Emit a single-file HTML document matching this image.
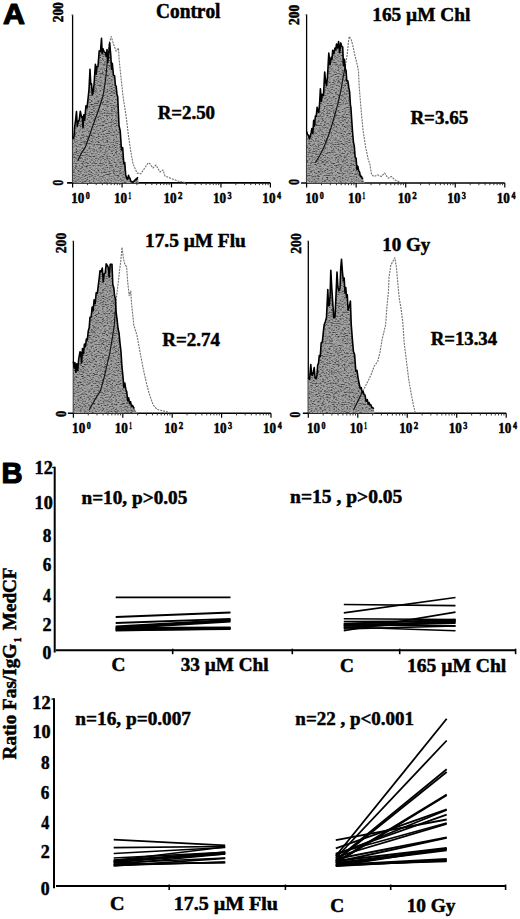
<!DOCTYPE html>
<html><head><meta charset="utf-8"><title>Figure</title>
<style>
html,body{margin:0;padding:0;background:#fff;}
body{width:520px;height:919px;overflow:hidden;}
svg{display:block;}
text{font-weight:bold;fill:#000;font-kerning:none;}
</style></head><body>
<svg width="520" height="919" viewBox="0 0 520 919">
<rect width="520" height="919" fill="#fff"/>
<text x="3.04" y="23.90" font-size="29.5" textLength="21.96" lengthAdjust="spacingAndGlyphs" style="font-family:'Liberation Sans', sans-serif"  stroke="#000" stroke-width="1.2" stroke-linejoin="round">A</text>
<text x="1.55" y="483.40" font-size="29.5" textLength="21.08" lengthAdjust="spacingAndGlyphs" style="font-family:'Liberation Sans', sans-serif"  stroke="#000" stroke-width="1.2" stroke-linejoin="round">B</text>
<line x1="72.6" y1="14.6" x2="72.6" y2="183.4" stroke="#000" stroke-width="1.3"/>
<line x1="67.1" y1="182.9" x2="270.4" y2="182.9" stroke="#000" stroke-width="1.6"/>
<line x1="72.60" y1="182.9" x2="72.60" y2="187.4" stroke="#000" stroke-width="1.2"/>
<line x1="87.49" y1="182.9" x2="87.49" y2="185.1" stroke="#222" stroke-width="0.9"/>
<line x1="96.19" y1="182.9" x2="96.19" y2="185.1" stroke="#222" stroke-width="0.9"/>
<line x1="102.37" y1="182.9" x2="102.37" y2="185.1" stroke="#222" stroke-width="0.9"/>
<line x1="107.16" y1="182.9" x2="107.16" y2="185.1" stroke="#222" stroke-width="0.9"/>
<line x1="111.08" y1="182.9" x2="111.08" y2="185.1" stroke="#222" stroke-width="0.9"/>
<line x1="114.39" y1="182.9" x2="114.39" y2="185.1" stroke="#222" stroke-width="0.9"/>
<line x1="117.26" y1="182.9" x2="117.26" y2="185.1" stroke="#222" stroke-width="0.9"/>
<line x1="119.79" y1="182.9" x2="119.79" y2="185.1" stroke="#222" stroke-width="0.9"/>
<line x1="122.05" y1="182.9" x2="122.05" y2="187.4" stroke="#000" stroke-width="1.2"/>
<line x1="136.94" y1="182.9" x2="136.94" y2="185.1" stroke="#222" stroke-width="0.9"/>
<line x1="145.64" y1="182.9" x2="145.64" y2="185.1" stroke="#222" stroke-width="0.9"/>
<line x1="151.82" y1="182.9" x2="151.82" y2="185.1" stroke="#222" stroke-width="0.9"/>
<line x1="156.61" y1="182.9" x2="156.61" y2="185.1" stroke="#222" stroke-width="0.9"/>
<line x1="160.53" y1="182.9" x2="160.53" y2="185.1" stroke="#222" stroke-width="0.9"/>
<line x1="163.84" y1="182.9" x2="163.84" y2="185.1" stroke="#222" stroke-width="0.9"/>
<line x1="166.71" y1="182.9" x2="166.71" y2="185.1" stroke="#222" stroke-width="0.9"/>
<line x1="169.24" y1="182.9" x2="169.24" y2="185.1" stroke="#222" stroke-width="0.9"/>
<line x1="171.50" y1="182.9" x2="171.50" y2="187.4" stroke="#000" stroke-width="1.2"/>
<line x1="186.39" y1="182.9" x2="186.39" y2="185.1" stroke="#222" stroke-width="0.9"/>
<line x1="195.09" y1="182.9" x2="195.09" y2="185.1" stroke="#222" stroke-width="0.9"/>
<line x1="201.27" y1="182.9" x2="201.27" y2="185.1" stroke="#222" stroke-width="0.9"/>
<line x1="206.06" y1="182.9" x2="206.06" y2="185.1" stroke="#222" stroke-width="0.9"/>
<line x1="209.98" y1="182.9" x2="209.98" y2="185.1" stroke="#222" stroke-width="0.9"/>
<line x1="213.29" y1="182.9" x2="213.29" y2="185.1" stroke="#222" stroke-width="0.9"/>
<line x1="216.16" y1="182.9" x2="216.16" y2="185.1" stroke="#222" stroke-width="0.9"/>
<line x1="218.69" y1="182.9" x2="218.69" y2="185.1" stroke="#222" stroke-width="0.9"/>
<line x1="220.95" y1="182.9" x2="220.95" y2="187.4" stroke="#000" stroke-width="1.2"/>
<line x1="235.84" y1="182.9" x2="235.84" y2="185.1" stroke="#222" stroke-width="0.9"/>
<line x1="244.54" y1="182.9" x2="244.54" y2="185.1" stroke="#222" stroke-width="0.9"/>
<line x1="250.72" y1="182.9" x2="250.72" y2="185.1" stroke="#222" stroke-width="0.9"/>
<line x1="255.51" y1="182.9" x2="255.51" y2="185.1" stroke="#222" stroke-width="0.9"/>
<line x1="259.43" y1="182.9" x2="259.43" y2="185.1" stroke="#222" stroke-width="0.9"/>
<line x1="262.74" y1="182.9" x2="262.74" y2="185.1" stroke="#222" stroke-width="0.9"/>
<line x1="265.61" y1="182.9" x2="265.61" y2="185.1" stroke="#222" stroke-width="0.9"/>
<line x1="268.14" y1="182.9" x2="268.14" y2="185.1" stroke="#222" stroke-width="0.9"/>
<line x1="270.40" y1="182.9" x2="270.40" y2="187.4" stroke="#000" stroke-width="1.2"/>
<line x1="71.1" y1="15.1" x2="72.6" y2="15.1" stroke="#999" stroke-width="1"/>
<text transform="translate(63.25,22.21) rotate(-90)" x="0" y="0" font-size="14" textLength="19.97" lengthAdjust="spacingAndGlyphs" style="font-family:'Liberation Serif', serif" stroke="#000" stroke-width="0.5" stroke-linejoin="round">200</text>
<text transform="translate(63.25,185.59) rotate(-90)" x="0" y="0" font-size="14" textLength="5.78" lengthAdjust="spacingAndGlyphs" style="font-family:'Liberation Serif', serif" stroke="#000" stroke-width="0.5" stroke-linejoin="round">0</text>
<text x="71.30" y="202.65" font-size="14.5" textLength="13.15" lengthAdjust="spacingAndGlyphs" style="font-family:'Liberation Serif', serif"  stroke="#000" stroke-width="0.5" stroke-linejoin="round">10</text>
<text x="85.84" y="198.65" font-size="10" textLength="4.01" lengthAdjust="spacingAndGlyphs" style="font-family:'Liberation Serif', serif"  stroke="#000" stroke-width="0.5" stroke-linejoin="round">0</text>
<text x="114.00" y="202.65" font-size="14.5" textLength="13.15" lengthAdjust="spacingAndGlyphs" style="font-family:'Liberation Serif', serif"  stroke="#000" stroke-width="0.5" stroke-linejoin="round">10</text>
<text x="128.44" y="198.65" font-size="10" textLength="2.58" lengthAdjust="spacingAndGlyphs" style="font-family:'Liberation Serif', serif"  stroke="#000" stroke-width="0.5" stroke-linejoin="round">1</text>
<text x="163.45" y="202.65" font-size="14.5" textLength="13.15" lengthAdjust="spacingAndGlyphs" style="font-family:'Liberation Serif', serif"  stroke="#000" stroke-width="0.5" stroke-linejoin="round">10</text>
<text x="177.93" y="198.65" font-size="10" textLength="4.46" lengthAdjust="spacingAndGlyphs" style="font-family:'Liberation Serif', serif"  stroke="#000" stroke-width="0.5" stroke-linejoin="round">2</text>
<text x="212.90" y="202.65" font-size="14.5" textLength="13.15" lengthAdjust="spacingAndGlyphs" style="font-family:'Liberation Serif', serif"  stroke="#000" stroke-width="0.5" stroke-linejoin="round">10</text>
<text x="227.44" y="198.65" font-size="10" textLength="4.09" lengthAdjust="spacingAndGlyphs" style="font-family:'Liberation Serif', serif"  stroke="#000" stroke-width="0.5" stroke-linejoin="round">3</text>
<text x="262.35" y="202.65" font-size="14.5" textLength="13.15" lengthAdjust="spacingAndGlyphs" style="font-family:'Liberation Serif', serif"  stroke="#000" stroke-width="0.5" stroke-linejoin="round">10</text>
<text x="277.09" y="198.65" font-size="10" textLength="4.06" lengthAdjust="spacingAndGlyphs" style="font-family:'Liberation Serif', serif"  stroke="#000" stroke-width="0.5" stroke-linejoin="round">4</text>
<line x1="306.6" y1="14.3" x2="306.6" y2="183.5" stroke="#000" stroke-width="1.3"/>
<line x1="301.1" y1="183.0" x2="504.8" y2="183.0" stroke="#000" stroke-width="1.6"/>
<line x1="306.60" y1="183.0" x2="306.60" y2="187.5" stroke="#000" stroke-width="1.2"/>
<line x1="321.52" y1="183.0" x2="321.52" y2="185.2" stroke="#222" stroke-width="0.9"/>
<line x1="330.24" y1="183.0" x2="330.24" y2="185.2" stroke="#222" stroke-width="0.9"/>
<line x1="336.43" y1="183.0" x2="336.43" y2="185.2" stroke="#222" stroke-width="0.9"/>
<line x1="341.23" y1="183.0" x2="341.23" y2="185.2" stroke="#222" stroke-width="0.9"/>
<line x1="345.16" y1="183.0" x2="345.16" y2="185.2" stroke="#222" stroke-width="0.9"/>
<line x1="348.47" y1="183.0" x2="348.47" y2="185.2" stroke="#222" stroke-width="0.9"/>
<line x1="351.35" y1="183.0" x2="351.35" y2="185.2" stroke="#222" stroke-width="0.9"/>
<line x1="353.88" y1="183.0" x2="353.88" y2="185.2" stroke="#222" stroke-width="0.9"/>
<line x1="356.15" y1="183.0" x2="356.15" y2="187.5" stroke="#000" stroke-width="1.2"/>
<line x1="371.07" y1="183.0" x2="371.07" y2="185.2" stroke="#222" stroke-width="0.9"/>
<line x1="379.79" y1="183.0" x2="379.79" y2="185.2" stroke="#222" stroke-width="0.9"/>
<line x1="385.98" y1="183.0" x2="385.98" y2="185.2" stroke="#222" stroke-width="0.9"/>
<line x1="390.78" y1="183.0" x2="390.78" y2="185.2" stroke="#222" stroke-width="0.9"/>
<line x1="394.71" y1="183.0" x2="394.71" y2="185.2" stroke="#222" stroke-width="0.9"/>
<line x1="398.02" y1="183.0" x2="398.02" y2="185.2" stroke="#222" stroke-width="0.9"/>
<line x1="400.90" y1="183.0" x2="400.90" y2="185.2" stroke="#222" stroke-width="0.9"/>
<line x1="403.43" y1="183.0" x2="403.43" y2="185.2" stroke="#222" stroke-width="0.9"/>
<line x1="405.70" y1="183.0" x2="405.70" y2="187.5" stroke="#000" stroke-width="1.2"/>
<line x1="420.62" y1="183.0" x2="420.62" y2="185.2" stroke="#222" stroke-width="0.9"/>
<line x1="429.34" y1="183.0" x2="429.34" y2="185.2" stroke="#222" stroke-width="0.9"/>
<line x1="435.53" y1="183.0" x2="435.53" y2="185.2" stroke="#222" stroke-width="0.9"/>
<line x1="440.33" y1="183.0" x2="440.33" y2="185.2" stroke="#222" stroke-width="0.9"/>
<line x1="444.26" y1="183.0" x2="444.26" y2="185.2" stroke="#222" stroke-width="0.9"/>
<line x1="447.57" y1="183.0" x2="447.57" y2="185.2" stroke="#222" stroke-width="0.9"/>
<line x1="450.45" y1="183.0" x2="450.45" y2="185.2" stroke="#222" stroke-width="0.9"/>
<line x1="452.98" y1="183.0" x2="452.98" y2="185.2" stroke="#222" stroke-width="0.9"/>
<line x1="455.25" y1="183.0" x2="455.25" y2="187.5" stroke="#000" stroke-width="1.2"/>
<line x1="470.17" y1="183.0" x2="470.17" y2="185.2" stroke="#222" stroke-width="0.9"/>
<line x1="478.89" y1="183.0" x2="478.89" y2="185.2" stroke="#222" stroke-width="0.9"/>
<line x1="485.08" y1="183.0" x2="485.08" y2="185.2" stroke="#222" stroke-width="0.9"/>
<line x1="489.88" y1="183.0" x2="489.88" y2="185.2" stroke="#222" stroke-width="0.9"/>
<line x1="493.81" y1="183.0" x2="493.81" y2="185.2" stroke="#222" stroke-width="0.9"/>
<line x1="497.12" y1="183.0" x2="497.12" y2="185.2" stroke="#222" stroke-width="0.9"/>
<line x1="500.00" y1="183.0" x2="500.00" y2="185.2" stroke="#222" stroke-width="0.9"/>
<line x1="502.53" y1="183.0" x2="502.53" y2="185.2" stroke="#222" stroke-width="0.9"/>
<line x1="504.80" y1="183.0" x2="504.80" y2="187.5" stroke="#000" stroke-width="1.2"/>
<line x1="305.1" y1="14.8" x2="306.6" y2="14.8" stroke="#999" stroke-width="1"/>
<text transform="translate(298.55,24.91) rotate(-90)" x="0" y="0" font-size="14" textLength="20.18" lengthAdjust="spacingAndGlyphs" style="font-family:'Liberation Serif', serif" stroke="#000" stroke-width="0.5" stroke-linejoin="round">200</text>
<text transform="translate(298.55,184.79) rotate(-90)" x="0" y="0" font-size="14" textLength="5.78" lengthAdjust="spacingAndGlyphs" style="font-family:'Liberation Serif', serif" stroke="#000" stroke-width="0.5" stroke-linejoin="round">0</text>
<text x="305.30" y="202.75" font-size="14.5" textLength="13.15" lengthAdjust="spacingAndGlyphs" style="font-family:'Liberation Serif', serif"  stroke="#000" stroke-width="0.5" stroke-linejoin="round">10</text>
<text x="319.84" y="198.75" font-size="10" textLength="4.01" lengthAdjust="spacingAndGlyphs" style="font-family:'Liberation Serif', serif"  stroke="#000" stroke-width="0.5" stroke-linejoin="round">0</text>
<text x="348.10" y="202.75" font-size="14.5" textLength="13.15" lengthAdjust="spacingAndGlyphs" style="font-family:'Liberation Serif', serif"  stroke="#000" stroke-width="0.5" stroke-linejoin="round">10</text>
<text x="362.54" y="198.75" font-size="10" textLength="2.58" lengthAdjust="spacingAndGlyphs" style="font-family:'Liberation Serif', serif"  stroke="#000" stroke-width="0.5" stroke-linejoin="round">1</text>
<text x="397.65" y="202.75" font-size="14.5" textLength="13.15" lengthAdjust="spacingAndGlyphs" style="font-family:'Liberation Serif', serif"  stroke="#000" stroke-width="0.5" stroke-linejoin="round">10</text>
<text x="412.13" y="198.75" font-size="10" textLength="4.46" lengthAdjust="spacingAndGlyphs" style="font-family:'Liberation Serif', serif"  stroke="#000" stroke-width="0.5" stroke-linejoin="round">2</text>
<text x="447.20" y="202.75" font-size="14.5" textLength="13.15" lengthAdjust="spacingAndGlyphs" style="font-family:'Liberation Serif', serif"  stroke="#000" stroke-width="0.5" stroke-linejoin="round">10</text>
<text x="461.74" y="198.75" font-size="10" textLength="4.09" lengthAdjust="spacingAndGlyphs" style="font-family:'Liberation Serif', serif"  stroke="#000" stroke-width="0.5" stroke-linejoin="round">3</text>
<text x="496.75" y="202.75" font-size="14.5" textLength="13.15" lengthAdjust="spacingAndGlyphs" style="font-family:'Liberation Serif', serif"  stroke="#000" stroke-width="0.5" stroke-linejoin="round">10</text>
<text x="511.49" y="198.75" font-size="10" textLength="4.06" lengthAdjust="spacingAndGlyphs" style="font-family:'Liberation Serif', serif"  stroke="#000" stroke-width="0.5" stroke-linejoin="round">4</text>
<line x1="73.4" y1="240.8" x2="73.4" y2="413.7" stroke="#000" stroke-width="1.3"/>
<line x1="67.9" y1="413.2" x2="271.0" y2="413.2" stroke="#000" stroke-width="1.6"/>
<line x1="73.40" y1="413.2" x2="73.40" y2="417.7" stroke="#000" stroke-width="1.2"/>
<line x1="88.27" y1="413.2" x2="88.27" y2="415.4" stroke="#222" stroke-width="0.9"/>
<line x1="96.97" y1="413.2" x2="96.97" y2="415.4" stroke="#222" stroke-width="0.9"/>
<line x1="103.14" y1="413.2" x2="103.14" y2="415.4" stroke="#222" stroke-width="0.9"/>
<line x1="107.93" y1="413.2" x2="107.93" y2="415.4" stroke="#222" stroke-width="0.9"/>
<line x1="111.84" y1="413.2" x2="111.84" y2="415.4" stroke="#222" stroke-width="0.9"/>
<line x1="115.15" y1="413.2" x2="115.15" y2="415.4" stroke="#222" stroke-width="0.9"/>
<line x1="118.01" y1="413.2" x2="118.01" y2="415.4" stroke="#222" stroke-width="0.9"/>
<line x1="120.54" y1="413.2" x2="120.54" y2="415.4" stroke="#222" stroke-width="0.9"/>
<line x1="122.80" y1="413.2" x2="122.80" y2="417.7" stroke="#000" stroke-width="1.2"/>
<line x1="137.67" y1="413.2" x2="137.67" y2="415.4" stroke="#222" stroke-width="0.9"/>
<line x1="146.37" y1="413.2" x2="146.37" y2="415.4" stroke="#222" stroke-width="0.9"/>
<line x1="152.54" y1="413.2" x2="152.54" y2="415.4" stroke="#222" stroke-width="0.9"/>
<line x1="157.33" y1="413.2" x2="157.33" y2="415.4" stroke="#222" stroke-width="0.9"/>
<line x1="161.24" y1="413.2" x2="161.24" y2="415.4" stroke="#222" stroke-width="0.9"/>
<line x1="164.55" y1="413.2" x2="164.55" y2="415.4" stroke="#222" stroke-width="0.9"/>
<line x1="167.41" y1="413.2" x2="167.41" y2="415.4" stroke="#222" stroke-width="0.9"/>
<line x1="169.94" y1="413.2" x2="169.94" y2="415.4" stroke="#222" stroke-width="0.9"/>
<line x1="172.20" y1="413.2" x2="172.20" y2="417.7" stroke="#000" stroke-width="1.2"/>
<line x1="187.07" y1="413.2" x2="187.07" y2="415.4" stroke="#222" stroke-width="0.9"/>
<line x1="195.77" y1="413.2" x2="195.77" y2="415.4" stroke="#222" stroke-width="0.9"/>
<line x1="201.94" y1="413.2" x2="201.94" y2="415.4" stroke="#222" stroke-width="0.9"/>
<line x1="206.73" y1="413.2" x2="206.73" y2="415.4" stroke="#222" stroke-width="0.9"/>
<line x1="210.64" y1="413.2" x2="210.64" y2="415.4" stroke="#222" stroke-width="0.9"/>
<line x1="213.95" y1="413.2" x2="213.95" y2="415.4" stroke="#222" stroke-width="0.9"/>
<line x1="216.81" y1="413.2" x2="216.81" y2="415.4" stroke="#222" stroke-width="0.9"/>
<line x1="219.34" y1="413.2" x2="219.34" y2="415.4" stroke="#222" stroke-width="0.9"/>
<line x1="221.60" y1="413.2" x2="221.60" y2="417.7" stroke="#000" stroke-width="1.2"/>
<line x1="236.47" y1="413.2" x2="236.47" y2="415.4" stroke="#222" stroke-width="0.9"/>
<line x1="245.17" y1="413.2" x2="245.17" y2="415.4" stroke="#222" stroke-width="0.9"/>
<line x1="251.34" y1="413.2" x2="251.34" y2="415.4" stroke="#222" stroke-width="0.9"/>
<line x1="256.13" y1="413.2" x2="256.13" y2="415.4" stroke="#222" stroke-width="0.9"/>
<line x1="260.04" y1="413.2" x2="260.04" y2="415.4" stroke="#222" stroke-width="0.9"/>
<line x1="263.35" y1="413.2" x2="263.35" y2="415.4" stroke="#222" stroke-width="0.9"/>
<line x1="266.21" y1="413.2" x2="266.21" y2="415.4" stroke="#222" stroke-width="0.9"/>
<line x1="268.74" y1="413.2" x2="268.74" y2="415.4" stroke="#222" stroke-width="0.9"/>
<line x1="271.00" y1="413.2" x2="271.00" y2="417.7" stroke="#000" stroke-width="1.2"/>
<line x1="71.9" y1="241.3" x2="73.4" y2="241.3" stroke="#999" stroke-width="1"/>
<text transform="translate(65.95,253.33) rotate(-90)" x="0" y="0" font-size="14" textLength="20.60" lengthAdjust="spacingAndGlyphs" style="font-family:'Liberation Serif', serif" stroke="#000" stroke-width="0.5" stroke-linejoin="round">200</text>
<text transform="translate(65.65,417.12) rotate(-90)" x="0" y="0" font-size="14" textLength="6.13" lengthAdjust="spacingAndGlyphs" style="font-family:'Liberation Serif', serif" stroke="#000" stroke-width="0.5" stroke-linejoin="round">0</text>
<text x="72.10" y="432.95" font-size="14.5" textLength="13.15" lengthAdjust="spacingAndGlyphs" style="font-family:'Liberation Serif', serif"  stroke="#000" stroke-width="0.5" stroke-linejoin="round">10</text>
<text x="86.64" y="428.95" font-size="10" textLength="4.01" lengthAdjust="spacingAndGlyphs" style="font-family:'Liberation Serif', serif"  stroke="#000" stroke-width="0.5" stroke-linejoin="round">0</text>
<text x="114.75" y="432.95" font-size="14.5" textLength="13.15" lengthAdjust="spacingAndGlyphs" style="font-family:'Liberation Serif', serif"  stroke="#000" stroke-width="0.5" stroke-linejoin="round">10</text>
<text x="129.19" y="428.95" font-size="10" textLength="2.58" lengthAdjust="spacingAndGlyphs" style="font-family:'Liberation Serif', serif"  stroke="#000" stroke-width="0.5" stroke-linejoin="round">1</text>
<text x="164.15" y="432.95" font-size="14.5" textLength="13.15" lengthAdjust="spacingAndGlyphs" style="font-family:'Liberation Serif', serif"  stroke="#000" stroke-width="0.5" stroke-linejoin="round">10</text>
<text x="178.63" y="428.95" font-size="10" textLength="4.46" lengthAdjust="spacingAndGlyphs" style="font-family:'Liberation Serif', serif"  stroke="#000" stroke-width="0.5" stroke-linejoin="round">2</text>
<text x="213.55" y="432.95" font-size="14.5" textLength="13.15" lengthAdjust="spacingAndGlyphs" style="font-family:'Liberation Serif', serif"  stroke="#000" stroke-width="0.5" stroke-linejoin="round">10</text>
<text x="228.09" y="428.95" font-size="10" textLength="4.09" lengthAdjust="spacingAndGlyphs" style="font-family:'Liberation Serif', serif"  stroke="#000" stroke-width="0.5" stroke-linejoin="round">3</text>
<text x="262.95" y="432.95" font-size="14.5" textLength="13.15" lengthAdjust="spacingAndGlyphs" style="font-family:'Liberation Serif', serif"  stroke="#000" stroke-width="0.5" stroke-linejoin="round">10</text>
<text x="277.69" y="428.95" font-size="10" textLength="4.06" lengthAdjust="spacingAndGlyphs" style="font-family:'Liberation Serif', serif"  stroke="#000" stroke-width="0.5" stroke-linejoin="round">4</text>
<line x1="308.3" y1="240.8" x2="308.3" y2="413.8" stroke="#000" stroke-width="1.3"/>
<line x1="302.8" y1="413.3" x2="506.2" y2="413.3" stroke="#000" stroke-width="1.6"/>
<line x1="308.30" y1="413.3" x2="308.30" y2="417.8" stroke="#000" stroke-width="1.2"/>
<line x1="323.19" y1="413.3" x2="323.19" y2="415.5" stroke="#222" stroke-width="0.9"/>
<line x1="331.91" y1="413.3" x2="331.91" y2="415.5" stroke="#222" stroke-width="0.9"/>
<line x1="338.09" y1="413.3" x2="338.09" y2="415.5" stroke="#222" stroke-width="0.9"/>
<line x1="342.88" y1="413.3" x2="342.88" y2="415.5" stroke="#222" stroke-width="0.9"/>
<line x1="346.80" y1="413.3" x2="346.80" y2="415.5" stroke="#222" stroke-width="0.9"/>
<line x1="350.11" y1="413.3" x2="350.11" y2="415.5" stroke="#222" stroke-width="0.9"/>
<line x1="352.98" y1="413.3" x2="352.98" y2="415.5" stroke="#222" stroke-width="0.9"/>
<line x1="355.51" y1="413.3" x2="355.51" y2="415.5" stroke="#222" stroke-width="0.9"/>
<line x1="357.77" y1="413.3" x2="357.77" y2="417.8" stroke="#000" stroke-width="1.2"/>
<line x1="372.67" y1="413.3" x2="372.67" y2="415.5" stroke="#222" stroke-width="0.9"/>
<line x1="381.38" y1="413.3" x2="381.38" y2="415.5" stroke="#222" stroke-width="0.9"/>
<line x1="387.56" y1="413.3" x2="387.56" y2="415.5" stroke="#222" stroke-width="0.9"/>
<line x1="392.36" y1="413.3" x2="392.36" y2="415.5" stroke="#222" stroke-width="0.9"/>
<line x1="396.27" y1="413.3" x2="396.27" y2="415.5" stroke="#222" stroke-width="0.9"/>
<line x1="399.59" y1="413.3" x2="399.59" y2="415.5" stroke="#222" stroke-width="0.9"/>
<line x1="402.46" y1="413.3" x2="402.46" y2="415.5" stroke="#222" stroke-width="0.9"/>
<line x1="404.99" y1="413.3" x2="404.99" y2="415.5" stroke="#222" stroke-width="0.9"/>
<line x1="407.25" y1="413.3" x2="407.25" y2="417.8" stroke="#000" stroke-width="1.2"/>
<line x1="422.14" y1="413.3" x2="422.14" y2="415.5" stroke="#222" stroke-width="0.9"/>
<line x1="430.86" y1="413.3" x2="430.86" y2="415.5" stroke="#222" stroke-width="0.9"/>
<line x1="437.04" y1="413.3" x2="437.04" y2="415.5" stroke="#222" stroke-width="0.9"/>
<line x1="441.83" y1="413.3" x2="441.83" y2="415.5" stroke="#222" stroke-width="0.9"/>
<line x1="445.75" y1="413.3" x2="445.75" y2="415.5" stroke="#222" stroke-width="0.9"/>
<line x1="449.06" y1="413.3" x2="449.06" y2="415.5" stroke="#222" stroke-width="0.9"/>
<line x1="451.93" y1="413.3" x2="451.93" y2="415.5" stroke="#222" stroke-width="0.9"/>
<line x1="454.46" y1="413.3" x2="454.46" y2="415.5" stroke="#222" stroke-width="0.9"/>
<line x1="456.73" y1="413.3" x2="456.73" y2="417.8" stroke="#000" stroke-width="1.2"/>
<line x1="471.62" y1="413.3" x2="471.62" y2="415.5" stroke="#222" stroke-width="0.9"/>
<line x1="480.33" y1="413.3" x2="480.33" y2="415.5" stroke="#222" stroke-width="0.9"/>
<line x1="486.51" y1="413.3" x2="486.51" y2="415.5" stroke="#222" stroke-width="0.9"/>
<line x1="491.31" y1="413.3" x2="491.31" y2="415.5" stroke="#222" stroke-width="0.9"/>
<line x1="495.22" y1="413.3" x2="495.22" y2="415.5" stroke="#222" stroke-width="0.9"/>
<line x1="498.54" y1="413.3" x2="498.54" y2="415.5" stroke="#222" stroke-width="0.9"/>
<line x1="501.41" y1="413.3" x2="501.41" y2="415.5" stroke="#222" stroke-width="0.9"/>
<line x1="503.94" y1="413.3" x2="503.94" y2="415.5" stroke="#222" stroke-width="0.9"/>
<line x1="506.20" y1="413.3" x2="506.20" y2="417.8" stroke="#000" stroke-width="1.2"/>
<line x1="306.8" y1="241.3" x2="308.3" y2="241.3" stroke="#999" stroke-width="1"/>
<text transform="translate(300.55,253.83) rotate(-90)" x="0" y="0" font-size="14" textLength="20.60" lengthAdjust="spacingAndGlyphs" style="font-family:'Liberation Serif', serif" stroke="#000" stroke-width="0.5" stroke-linejoin="round">200</text>
<text transform="translate(300.15,417.48) rotate(-90)" x="0" y="0" font-size="14" textLength="5.66" lengthAdjust="spacingAndGlyphs" style="font-family:'Liberation Serif', serif" stroke="#000" stroke-width="0.5" stroke-linejoin="round">0</text>
<text x="307.00" y="433.05" font-size="14.5" textLength="13.15" lengthAdjust="spacingAndGlyphs" style="font-family:'Liberation Serif', serif"  stroke="#000" stroke-width="0.5" stroke-linejoin="round">10</text>
<text x="321.54" y="429.05" font-size="10" textLength="4.01" lengthAdjust="spacingAndGlyphs" style="font-family:'Liberation Serif', serif"  stroke="#000" stroke-width="0.5" stroke-linejoin="round">0</text>
<text x="349.72" y="433.05" font-size="14.5" textLength="13.15" lengthAdjust="spacingAndGlyphs" style="font-family:'Liberation Serif', serif"  stroke="#000" stroke-width="0.5" stroke-linejoin="round">10</text>
<text x="364.16" y="429.05" font-size="10" textLength="2.58" lengthAdjust="spacingAndGlyphs" style="font-family:'Liberation Serif', serif"  stroke="#000" stroke-width="0.5" stroke-linejoin="round">1</text>
<text x="399.20" y="433.05" font-size="14.5" textLength="13.15" lengthAdjust="spacingAndGlyphs" style="font-family:'Liberation Serif', serif"  stroke="#000" stroke-width="0.5" stroke-linejoin="round">10</text>
<text x="413.68" y="429.05" font-size="10" textLength="4.46" lengthAdjust="spacingAndGlyphs" style="font-family:'Liberation Serif', serif"  stroke="#000" stroke-width="0.5" stroke-linejoin="round">2</text>
<text x="448.67" y="433.05" font-size="14.5" textLength="13.15" lengthAdjust="spacingAndGlyphs" style="font-family:'Liberation Serif', serif"  stroke="#000" stroke-width="0.5" stroke-linejoin="round">10</text>
<text x="463.22" y="429.05" font-size="10" textLength="4.09" lengthAdjust="spacingAndGlyphs" style="font-family:'Liberation Serif', serif"  stroke="#000" stroke-width="0.5" stroke-linejoin="round">3</text>
<text x="498.15" y="433.05" font-size="14.5" textLength="13.15" lengthAdjust="spacingAndGlyphs" style="font-family:'Liberation Serif', serif"  stroke="#000" stroke-width="0.5" stroke-linejoin="round">10</text>
<text x="512.89" y="429.05" font-size="10" textLength="4.06" lengthAdjust="spacingAndGlyphs" style="font-family:'Liberation Serif', serif"  stroke="#000" stroke-width="0.5" stroke-linejoin="round">4</text>
<defs>
<clipPath id="cf0"><path d="M72.60,182.90 L72.60,139.00 L74.00,135.00 L75.50,118.00 L76.50,112.30 L77.30,121.00 L78.00,122.00 L79.20,120.00 L80.30,113.00 L81.50,115.40 L83.00,118.00 L84.60,112.30 L86.00,106.00 L87.00,102.30 L88.00,99.00 L89.00,84.00 L90.00,71.20 L90.80,80.00 L91.50,85.00 L93.00,92.70 L94.00,78.00 L95.40,65.00 L96.20,72.00 L97.00,66.50 L98.00,58.00 L99.20,51.20 L100.50,45.00 L101.50,40.40 L102.20,47.00 L103.00,51.20 L104.20,49.00 L105.40,54.20 L107.00,52.00 L108.50,55.80 L109.70,42.00 L110.80,55.80 L112.30,63.50 L113.50,70.00 L114.60,75.80 L116.20,86.50 L117.70,97.30 L119.00,120.80 L120.20,133.00 L121.50,143.80 L123.80,156.00 L125.70,173.00 L127.00,179.00 L128.50,176.00 L129.20,175.40 L130.80,181.00 L133.00,182.20 L135.00,180.00 L137.70,177.00 L139.00,182.90 Z"/></clipPath>
<clipPath id="cf1"><path d="M306.60,183.00 L306.60,131.50 L308.50,135.00 L310.20,136.70 L312.80,124.60 L315.40,116.00 L317.10,107.30 L318.80,112.50 L320.40,91.20 L322.30,95.80 L323.50,88.00 L324.70,72.00 L326.50,86.50 L327.50,70.00 L328.80,55.00 L331.20,57.30 L332.70,51.20 L335.00,48.00 L336.50,44.00 L337.60,38.80 L339.60,48.00 L341.90,38.00 L343.50,57.30 L345.30,65.00 L346.80,75.80 L348.80,86.50 L350.40,97.30 L350.90,107.30 L352.60,133.30 L355.20,154.00 L357.80,166.20 L360.40,174.80 L363.00,179.00 L364.70,183.00 Z"/></clipPath>
<clipPath id="cf2"><path d="M73.40,413.20 L73.40,361.30 L75.00,364.00 L76.70,366.20 L78.70,361.30 L80.00,351.70 L81.50,353.70 L83.50,345.00 L85.40,343.00 L87.30,335.40 L89.20,327.70 L90.00,317.30 L91.20,315.00 L93.10,303.50 L96.20,292.70 L98.50,283.50 L100.00,272.70 L102.30,268.00 L104.20,275.80 L106.20,266.50 L107.40,261.20 L109.20,275.80 L111.20,258.00 L112.80,275.80 L113.80,288.00 L115.40,298.80 L116.20,312.00 L117.00,318.80 L119.00,333.50 L121.00,352.70 L122.90,375.80 L125.80,387.30 L127.70,397.00 L129.60,398.80 L131.50,404.60 L134.40,408.50 L137.30,413.20 Z"/></clipPath>
<clipPath id="cf3"><path d="M308.30,413.30 L308.30,377.70 L310.80,366.20 L312.40,375.40 L314.20,368.50 L316.00,380.00 L317.70,366.20 L319.30,357.00 L321.20,343.00 L323.50,331.50 L324.20,323.50 L325.30,322.30 L326.50,310.00 L327.80,289.60 L329.30,306.50 L330.80,270.40 L332.70,303.50 L335.00,317.30 L337.00,272.00 L338.80,291.00 L340.00,278.80 L341.50,258.00 L342.70,275.80 L344.20,280.40 L345.80,288.00 L347.30,295.80 L348.80,309.60 L350.40,301.20 L351.20,318.80 L352.30,338.50 L354.60,354.60 L357.00,370.80 L359.20,384.60 L362.20,389.20 L365.00,396.20 L367.30,399.60 L370.80,405.40 L373.80,408.80 L374.70,413.30 Z"/></clipPath>
<filter id="noise" filterUnits="userSpaceOnUse" x="0" y="0" width="520" height="460"><feTurbulence type="fractalNoise" baseFrequency="0.45 0.9" numOctaves="2" seed="7" result="t"/><feColorMatrix in="t" type="matrix" values="0 0 0 0 0  0 0 0 0 0  0 0 0 0 0  -1.8 0 0 0 1.0" result="a"/><feComposite in="a" in2="SourceGraphic" operator="in"/></filter>
</defs>
<path d="M72.60,182.90 L72.60,139.00 L74.00,136.55 L74.75,126.02 L75.50,120.75 L76.50,111.64 L77.30,126.44 L78.00,122.00 L79.20,120.04 L80.30,111.24 L81.50,117.13 L82.25,116.66 L83.00,127.94 L83.80,114.84 L84.60,120.23 L86.00,105.68 L87.00,107.89 L88.00,98.99 L89.00,89.54 L90.00,69.24 L90.80,84.31 L91.50,83.78 L92.25,94.81 L93.00,92.70 L94.00,84.98 L95.40,64.38 L96.20,74.10 L97.00,66.50 L98.00,66.29 L99.20,50.88 L100.50,51.51 L101.50,38.36 L102.20,53.46 L103.00,48.86 L104.20,51.99 L105.40,52.66 L106.20,56.59 L107.00,49.54 L107.75,62.35 L108.50,55.80 L109.70,42.75 L110.80,55.77 L111.55,69.20 L112.30,63.25 L113.50,75.45 L114.60,75.72 L115.40,85.29 L116.20,86.33 L116.95,94.46 L117.70,96.70 L119.00,125.77 L120.20,130.78 L121.50,149.88 L122.65,147.50 L123.80,163.70 L124.75,162.62 L125.70,175.06 L127.00,179.00 L127.75,179.05 L128.50,175.35 L129.20,177.70 L130.00,178.11 L130.80,181.43 L131.90,181.60 L133.00,182.39 L134.00,181.06 L135.00,180.20 L135.90,179.00 L136.80,179.40 L137.70,177.00 L139.00,182.90 Z" fill="#a2a2a2" stroke="none"/>
<path d="M72.60,182.90 L72.60,139.00 L74.00,136.55 L74.75,126.02 L75.50,120.75 L76.50,111.64 L77.30,126.44 L78.00,122.00 L79.20,120.04 L80.30,111.24 L81.50,117.13 L82.25,116.66 L83.00,127.94 L83.80,114.84 L84.60,120.23 L86.00,105.68 L87.00,107.89 L88.00,98.99 L89.00,89.54 L90.00,69.24 L90.80,84.31 L91.50,83.78 L92.25,94.81 L93.00,92.70 L94.00,84.98 L95.40,64.38 L96.20,74.10 L97.00,66.50 L98.00,66.29 L99.20,50.88 L100.50,51.51 L101.50,38.36 L102.20,53.46 L103.00,48.86 L104.20,51.99 L105.40,52.66 L106.20,56.59 L107.00,49.54 L107.75,62.35 L108.50,55.80 L109.70,42.75 L110.80,55.77 L111.55,69.20 L112.30,63.25 L113.50,75.45 L114.60,75.72 L115.40,85.29 L116.20,86.33 L116.95,94.46 L117.70,96.70 L119.00,125.77 L120.20,130.78 L121.50,149.88 L122.65,147.50 L123.80,163.70 L124.75,162.62 L125.70,175.06 L127.00,179.00 L127.75,179.05 L128.50,175.35 L129.20,177.70 L130.00,178.11 L130.80,181.43 L131.90,181.60 L133.00,182.39 L134.00,181.06 L135.00,180.20 L135.90,179.00 L136.80,179.40 L137.70,177.00 L139.00,182.90 Z" fill="#000" stroke="none" filter="url(#noise)"/>
<path d="M77.70,160.80 L81.00,154.00 L85.40,147.00 L89.00,137.00 L93.00,125.40 L98.50,110.00 L103.00,96.00 L105.50,80.00 L107.50,60.00 L109.20,43.50 L111.20,36.50 L113.80,45.00 L116.20,51.20 L118.50,48.00 L119.20,60.40 L120.80,75.80 L122.30,89.60 L123.00,96.00 L126.20,117.00 L128.50,136.00 L130.80,151.50 L133.00,163.80 L137.00,173.00 L140.80,173.80 L145.40,167.00 L148.00,163.00 L150.00,163.80 L153.00,168.00 L156.00,165.00 L160.00,172.00 L163.00,170.00 L165.00,176.00 L170.00,178.00 L178.00,181.00 L185.00,182.50" fill="none" stroke="#707070" stroke-width="1.1" stroke-linejoin="round" stroke-dasharray="2 1"/>
<path d="M77.70,160.80 L81.00,154.00 L85.40,147.00 L89.00,137.00 L93.00,125.40 L98.50,110.00 L103.00,96.00 L105.50,80.00 L107.50,60.00 L109.20,43.50 L111.20,36.50 L113.80,45.00 L116.20,51.20 L118.50,48.00 L119.20,60.40 L120.80,75.80 L122.30,89.60 L123.00,96.00 L126.20,117.00 L128.50,136.00 L130.80,151.50 L133.00,163.80 L137.00,173.00 L140.80,173.80 L145.40,167.00 L148.00,163.00 L150.00,163.80 L153.00,168.00 L156.00,165.00 L160.00,172.00 L163.00,170.00 L165.00,176.00 L170.00,178.00 L178.00,181.00 L185.00,182.50" fill="none" stroke="#111" stroke-width="1.1" stroke-linejoin="round" clip-path="url(#cf0)"/>
<path d="M72.60,139.00 L74.00,136.55 L74.75,126.02 L75.50,120.75 L76.50,111.64 L77.30,126.44 L78.00,122.00 L79.20,120.04 L80.30,111.24 L81.50,117.13 L82.25,116.66 L83.00,127.94 L83.80,114.84 L84.60,120.23 L86.00,105.68 L87.00,107.89 L88.00,98.99 L89.00,89.54 L90.00,69.24 L90.80,84.31 L91.50,83.78 L92.25,94.81 L93.00,92.70 L94.00,84.98 L95.40,64.38 L96.20,74.10 L97.00,66.50 L98.00,66.29 L99.20,50.88 L100.50,51.51 L101.50,38.36 L102.20,53.46 L103.00,48.86 L104.20,51.99 L105.40,52.66 L106.20,56.59 L107.00,49.54 L107.75,62.35 L108.50,55.80 L109.70,42.75 L110.80,55.77 L111.55,69.20 L112.30,63.25 L113.50,75.45 L114.60,75.72 L115.40,85.29 L116.20,86.33 L116.95,94.46 L117.70,96.70 L119.00,125.77 L120.20,130.78 L121.50,149.88 L122.65,147.50 L123.80,163.70 L124.75,162.62 L125.70,175.06 L127.00,179.00 L127.75,179.05 L128.50,175.35 L129.20,177.70 L130.00,178.11 L130.80,181.43 L131.90,181.60 L133.00,182.39 L134.00,181.06 L135.00,180.20 L135.90,179.00 L136.80,179.40 L137.70,177.00" fill="none" stroke="#000" stroke-width="1.6" stroke-linejoin="round" />
<path d="M306.60,183.00 L306.60,131.50 L307.55,134.78 L308.50,135.00 L309.35,138.85 L310.20,136.69 L311.07,132.96 L311.93,128.44 L312.80,133.55 L313.67,120.19 L314.53,125.93 L315.40,115.97 L316.25,116.10 L317.10,107.24 L317.95,110.92 L318.80,112.50 L319.60,103.20 L320.40,88.81 L321.35,101.34 L322.30,94.23 L323.50,95.49 L324.70,71.98 L325.60,81.43 L326.50,85.76 L327.50,76.66 L328.80,53.13 L330.00,64.62 L331.20,57.30 L331.95,59.46 L332.70,50.29 L333.85,53.72 L335.00,47.98 L335.75,49.78 L336.50,44.00 L337.60,47.96 L338.60,41.46 L339.60,52.57 L340.75,42.92 L341.90,46.83 L342.70,47.09 L343.50,65.80 L344.40,59.32 L345.30,69.15 L346.05,70.19 L346.80,80.94 L347.80,80.91 L348.80,87.43 L349.60,91.81 L350.40,104.94 L350.90,107.30 L351.75,120.48 L352.60,132.56 L353.47,142.12 L354.33,146.64 L355.20,157.76 L356.07,157.96 L356.93,169.41 L357.80,166.19 L358.67,170.61 L359.53,171.92 L360.40,176.38 L361.27,176.18 L362.13,178.09 L363.00,179.00 L364.70,183.00 Z" fill="#a2a2a2" stroke="none"/>
<path d="M306.60,183.00 L306.60,131.50 L307.55,134.78 L308.50,135.00 L309.35,138.85 L310.20,136.69 L311.07,132.96 L311.93,128.44 L312.80,133.55 L313.67,120.19 L314.53,125.93 L315.40,115.97 L316.25,116.10 L317.10,107.24 L317.95,110.92 L318.80,112.50 L319.60,103.20 L320.40,88.81 L321.35,101.34 L322.30,94.23 L323.50,95.49 L324.70,71.98 L325.60,81.43 L326.50,85.76 L327.50,76.66 L328.80,53.13 L330.00,64.62 L331.20,57.30 L331.95,59.46 L332.70,50.29 L333.85,53.72 L335.00,47.98 L335.75,49.78 L336.50,44.00 L337.60,47.96 L338.60,41.46 L339.60,52.57 L340.75,42.92 L341.90,46.83 L342.70,47.09 L343.50,65.80 L344.40,59.32 L345.30,69.15 L346.05,70.19 L346.80,80.94 L347.80,80.91 L348.80,87.43 L349.60,91.81 L350.40,104.94 L350.90,107.30 L351.75,120.48 L352.60,132.56 L353.47,142.12 L354.33,146.64 L355.20,157.76 L356.07,157.96 L356.93,169.41 L357.80,166.19 L358.67,170.61 L359.53,171.92 L360.40,176.38 L361.27,176.18 L362.13,178.09 L363.00,179.00 L364.70,183.00 Z" fill="#000" stroke="none" filter="url(#noise)"/>
<path d="M315.40,162.70 L320.00,155.00 L324.00,147.00 L327.50,138.00 L331.00,128.00 L334.50,116.00 L337.90,103.80 L341.00,90.00 L343.00,78.00 L345.50,65.00 L347.30,54.20 L348.40,42.00 L349.30,36.50 L351.20,39.60 L352.70,45.00 L355.00,55.80 L357.30,65.00 L358.50,71.20 L359.20,86.50 L359.50,90.00 L361.20,110.80 L363.00,129.80 L365.60,147.00 L368.20,159.20 L369.90,164.40 L371.60,174.80 L374.20,176.50 L377.70,174.80 L381.20,176.50 L384.60,173.00 L388.00,178.30 L391.50,176.50 L395.00,180.00 L400.00,182.00" fill="none" stroke="#707070" stroke-width="1.1" stroke-linejoin="round" stroke-dasharray="2 1"/>
<path d="M315.40,162.70 L320.00,155.00 L324.00,147.00 L327.50,138.00 L331.00,128.00 L334.50,116.00 L337.90,103.80 L341.00,90.00 L343.00,78.00 L345.50,65.00 L347.30,54.20 L348.40,42.00 L349.30,36.50 L351.20,39.60 L352.70,45.00 L355.00,55.80 L357.30,65.00 L358.50,71.20 L359.20,86.50 L359.50,90.00 L361.20,110.80 L363.00,129.80 L365.60,147.00 L368.20,159.20 L369.90,164.40 L371.60,174.80 L374.20,176.50 L377.70,174.80 L381.20,176.50 L384.60,173.00 L388.00,178.30 L391.50,176.50 L395.00,180.00 L400.00,182.00" fill="none" stroke="#111" stroke-width="1.1" stroke-linejoin="round" clip-path="url(#cf1)"/>
<path d="M306.60,131.50 L307.55,134.78 L308.50,135.00 L309.35,138.85 L310.20,136.69 L311.07,132.96 L311.93,128.44 L312.80,133.55 L313.67,120.19 L314.53,125.93 L315.40,115.97 L316.25,116.10 L317.10,107.24 L317.95,110.92 L318.80,112.50 L319.60,103.20 L320.40,88.81 L321.35,101.34 L322.30,94.23 L323.50,95.49 L324.70,71.98 L325.60,81.43 L326.50,85.76 L327.50,76.66 L328.80,53.13 L330.00,64.62 L331.20,57.30 L331.95,59.46 L332.70,50.29 L333.85,53.72 L335.00,47.98 L335.75,49.78 L336.50,44.00 L337.60,47.96 L338.60,41.46 L339.60,52.57 L340.75,42.92 L341.90,46.83 L342.70,47.09 L343.50,65.80 L344.40,59.32 L345.30,69.15 L346.05,70.19 L346.80,80.94 L347.80,80.91 L348.80,87.43 L349.60,91.81 L350.40,104.94 L350.90,107.30 L351.75,120.48 L352.60,132.56 L353.47,142.12 L354.33,146.64 L355.20,157.76 L356.07,157.96 L356.93,169.41 L357.80,166.19 L358.67,170.61 L359.53,171.92 L360.40,176.38 L361.27,176.18 L362.13,178.09 L363.00,179.00" fill="none" stroke="#000" stroke-width="1.6" stroke-linejoin="round" />
<path d="M73.40,413.20 L73.40,361.30 L74.20,368.05 L75.00,362.78 L75.85,372.52 L76.70,363.69 L77.70,370.51 L78.70,358.95 L80.00,351.80 L80.75,352.40 L81.50,362.97 L82.50,348.53 L83.50,353.73 L84.45,344.00 L85.40,346.74 L86.35,339.16 L87.30,339.93 L88.25,330.98 L89.20,327.74 L90.00,317.27 L91.20,316.91 L92.15,306.94 L93.10,310.57 L94.13,299.89 L95.17,303.75 L96.20,292.69 L97.35,293.44 L98.50,283.49 L99.25,278.10 L100.00,270.71 L101.15,271.66 L102.30,267.97 L103.25,281.67 L104.20,273.81 L105.20,273.14 L106.20,263.83 L107.40,265.68 L108.30,267.57 L109.20,277.07 L110.20,264.40 L111.20,264.18 L112.00,264.19 L112.80,284.44 L113.80,287.92 L114.60,296.06 L115.40,298.79 L116.20,312.82 L117.00,318.80 L118.00,328.25 L119.00,332.84 L120.00,343.11 L121.00,351.77 L121.95,366.69 L122.90,375.71 L123.87,387.34 L124.83,383.13 L125.80,389.33 L126.75,391.90 L127.70,400.60 L128.65,397.90 L129.60,403.68 L130.55,401.70 L131.50,406.67 L132.47,405.44 L133.43,407.21 L134.40,408.50 L137.30,413.20 Z" fill="#a2a2a2" stroke="none"/>
<path d="M73.40,413.20 L73.40,361.30 L74.20,368.05 L75.00,362.78 L75.85,372.52 L76.70,363.69 L77.70,370.51 L78.70,358.95 L80.00,351.80 L80.75,352.40 L81.50,362.97 L82.50,348.53 L83.50,353.73 L84.45,344.00 L85.40,346.74 L86.35,339.16 L87.30,339.93 L88.25,330.98 L89.20,327.74 L90.00,317.27 L91.20,316.91 L92.15,306.94 L93.10,310.57 L94.13,299.89 L95.17,303.75 L96.20,292.69 L97.35,293.44 L98.50,283.49 L99.25,278.10 L100.00,270.71 L101.15,271.66 L102.30,267.97 L103.25,281.67 L104.20,273.81 L105.20,273.14 L106.20,263.83 L107.40,265.68 L108.30,267.57 L109.20,277.07 L110.20,264.40 L111.20,264.18 L112.00,264.19 L112.80,284.44 L113.80,287.92 L114.60,296.06 L115.40,298.79 L116.20,312.82 L117.00,318.80 L118.00,328.25 L119.00,332.84 L120.00,343.11 L121.00,351.77 L121.95,366.69 L122.90,375.71 L123.87,387.34 L124.83,383.13 L125.80,389.33 L126.75,391.90 L127.70,400.60 L128.65,397.90 L129.60,403.68 L130.55,401.70 L131.50,406.67 L132.47,405.44 L133.43,407.21 L134.40,408.50 L137.30,413.20 Z" fill="#000" stroke="none" filter="url(#noise)"/>
<path d="M89.20,410.00 L92.30,404.00 L96.00,398.00 L100.40,390.80 L104.00,378.00 L107.00,365.00 L109.80,353.00 L112.00,340.00 L114.20,325.80 L116.20,300.00 L117.20,291.00 L118.50,280.40 L119.50,271.20 L120.80,260.40 L122.00,247.30 L123.50,258.80 L125.00,265.00 L126.60,266.50 L127.70,282.00 L129.20,295.80 L130.80,291.00 L131.50,303.50 L133.00,317.30 L133.80,325.00 L137.00,335.40 L140.50,354.60 L143.50,370.00 L146.50,383.50 L149.00,393.00 L153.00,404.60 L157.00,409.40 L162.00,410.60 L168.00,412.00" fill="none" stroke="#707070" stroke-width="1.1" stroke-linejoin="round" stroke-dasharray="2 1"/>
<path d="M89.20,410.00 L92.30,404.00 L96.00,398.00 L100.40,390.80 L104.00,378.00 L107.00,365.00 L109.80,353.00 L112.00,340.00 L114.20,325.80 L116.20,300.00 L117.20,291.00 L118.50,280.40 L119.50,271.20 L120.80,260.40 L122.00,247.30 L123.50,258.80 L125.00,265.00 L126.60,266.50 L127.70,282.00 L129.20,295.80 L130.80,291.00 L131.50,303.50 L133.00,317.30 L133.80,325.00 L137.00,335.40 L140.50,354.60 L143.50,370.00 L146.50,383.50 L149.00,393.00 L153.00,404.60 L157.00,409.40 L162.00,410.60 L168.00,412.00" fill="none" stroke="#111" stroke-width="1.1" stroke-linejoin="round" clip-path="url(#cf2)"/>
<path d="M73.40,361.30 L74.20,368.05 L75.00,362.78 L75.85,372.52 L76.70,363.69 L77.70,370.51 L78.70,358.95 L80.00,351.80 L80.75,352.40 L81.50,362.97 L82.50,348.53 L83.50,353.73 L84.45,344.00 L85.40,346.74 L86.35,339.16 L87.30,339.93 L88.25,330.98 L89.20,327.74 L90.00,317.27 L91.20,316.91 L92.15,306.94 L93.10,310.57 L94.13,299.89 L95.17,303.75 L96.20,292.69 L97.35,293.44 L98.50,283.49 L99.25,278.10 L100.00,270.71 L101.15,271.66 L102.30,267.97 L103.25,281.67 L104.20,273.81 L105.20,273.14 L106.20,263.83 L107.40,265.68 L108.30,267.57 L109.20,277.07 L110.20,264.40 L111.20,264.18 L112.00,264.19 L112.80,284.44 L113.80,287.92 L114.60,296.06 L115.40,298.79 L116.20,312.82 L117.00,318.80 L118.00,328.25 L119.00,332.84 L120.00,343.11 L121.00,351.77 L121.95,366.69 L122.90,375.71 L123.87,387.34 L124.83,383.13 L125.80,389.33 L126.75,391.90 L127.70,400.60 L128.65,397.90 L129.60,403.68 L130.55,401.70 L131.50,406.67 L132.47,405.44 L133.43,407.21 L134.40,408.50" fill="none" stroke="#000" stroke-width="1.6" stroke-linejoin="round" />
<path d="M308.30,413.30 L308.30,377.70 L309.55,379.35 L310.80,364.53 L311.60,374.70 L312.40,375.35 L313.30,371.95 L314.20,367.63 L315.10,378.00 L316.00,378.68 L316.85,375.88 L317.70,364.83 L318.50,363.45 L319.30,355.45 L320.25,356.64 L321.20,342.79 L322.35,341.72 L323.50,330.55 L324.20,324.68 L325.30,321.79 L326.50,317.54 L327.80,289.54 L328.55,305.57 L329.30,305.53 L330.05,296.47 L330.80,270.29 L331.75,287.41 L332.70,301.96 L333.85,317.94 L335.00,317.04 L336.00,295.11 L337.00,271.98 L337.90,287.04 L338.80,290.93 L340.00,288.17 L340.75,267.79 L341.50,259.24 L342.70,274.96 L343.45,280.75 L344.20,277.97 L345.00,293.04 L345.80,287.59 L346.55,297.55 L347.30,294.78 L348.05,310.25 L348.80,306.81 L349.60,305.50 L350.40,301.06 L351.20,323.97 L352.30,338.42 L353.45,351.58 L354.60,354.60 L355.80,371.17 L357.00,370.37 L358.10,378.31 L359.20,383.73 L360.20,388.23 L361.20,387.65 L362.20,392.48 L363.13,391.53 L364.07,394.76 L365.00,395.04 L366.15,401.28 L367.30,399.60 L368.18,404.14 L369.05,402.50 L369.93,404.73 L370.80,404.79 L371.80,407.81 L372.80,407.65 L373.80,408.80 L374.70,413.30 Z" fill="#a2a2a2" stroke="none"/>
<path d="M308.30,413.30 L308.30,377.70 L309.55,379.35 L310.80,364.53 L311.60,374.70 L312.40,375.35 L313.30,371.95 L314.20,367.63 L315.10,378.00 L316.00,378.68 L316.85,375.88 L317.70,364.83 L318.50,363.45 L319.30,355.45 L320.25,356.64 L321.20,342.79 L322.35,341.72 L323.50,330.55 L324.20,324.68 L325.30,321.79 L326.50,317.54 L327.80,289.54 L328.55,305.57 L329.30,305.53 L330.05,296.47 L330.80,270.29 L331.75,287.41 L332.70,301.96 L333.85,317.94 L335.00,317.04 L336.00,295.11 L337.00,271.98 L337.90,287.04 L338.80,290.93 L340.00,288.17 L340.75,267.79 L341.50,259.24 L342.70,274.96 L343.45,280.75 L344.20,277.97 L345.00,293.04 L345.80,287.59 L346.55,297.55 L347.30,294.78 L348.05,310.25 L348.80,306.81 L349.60,305.50 L350.40,301.06 L351.20,323.97 L352.30,338.42 L353.45,351.58 L354.60,354.60 L355.80,371.17 L357.00,370.37 L358.10,378.31 L359.20,383.73 L360.20,388.23 L361.20,387.65 L362.20,392.48 L363.13,391.53 L364.07,394.76 L365.00,395.04 L366.15,401.28 L367.30,399.60 L368.18,404.14 L369.05,402.50 L369.93,404.73 L370.80,404.79 L371.80,407.81 L372.80,407.65 L373.80,408.80 L374.70,413.30 Z" fill="#000" stroke="none" filter="url(#noise)"/>
<path d="M353.50,410.00 L358.00,400.80 L361.50,394.00 L365.00,387.00 L368.50,380.00 L370.80,375.40 L374.20,366.20 L377.70,361.50 L380.00,352.30 L382.30,338.50 L384.60,329.20 L385.60,325.00 L386.20,316.50 L387.30,302.70 L388.50,291.20 L389.00,277.30 L390.80,265.20 L392.50,262.00 L394.80,257.70 L396.50,268.00 L398.30,288.80 L399.40,299.20 L401.20,309.60 L402.90,323.50 L404.20,343.00 L406.50,361.50 L408.80,380.00 L411.20,393.80 L413.50,405.40 L415.30,413.00" fill="none" stroke="#707070" stroke-width="1.1" stroke-linejoin="round" stroke-dasharray="2 1"/>
<path d="M353.50,410.00 L358.00,400.80 L361.50,394.00 L365.00,387.00 L368.50,380.00 L370.80,375.40 L374.20,366.20 L377.70,361.50 L380.00,352.30 L382.30,338.50 L384.60,329.20 L385.60,325.00 L386.20,316.50 L387.30,302.70 L388.50,291.20 L389.00,277.30 L390.80,265.20 L392.50,262.00 L394.80,257.70 L396.50,268.00 L398.30,288.80 L399.40,299.20 L401.20,309.60 L402.90,323.50 L404.20,343.00 L406.50,361.50 L408.80,380.00 L411.20,393.80 L413.50,405.40 L415.30,413.00" fill="none" stroke="#111" stroke-width="1.1" stroke-linejoin="round" clip-path="url(#cf3)"/>
<path d="M308.30,377.70 L309.55,379.35 L310.80,364.53 L311.60,374.70 L312.40,375.35 L313.30,371.95 L314.20,367.63 L315.10,378.00 L316.00,378.68 L316.85,375.88 L317.70,364.83 L318.50,363.45 L319.30,355.45 L320.25,356.64 L321.20,342.79 L322.35,341.72 L323.50,330.55 L324.20,324.68 L325.30,321.79 L326.50,317.54 L327.80,289.54 L328.55,305.57 L329.30,305.53 L330.05,296.47 L330.80,270.29 L331.75,287.41 L332.70,301.96 L333.85,317.94 L335.00,317.04 L336.00,295.11 L337.00,271.98 L337.90,287.04 L338.80,290.93 L340.00,288.17 L340.75,267.79 L341.50,259.24 L342.70,274.96 L343.45,280.75 L344.20,277.97 L345.00,293.04 L345.80,287.59 L346.55,297.55 L347.30,294.78 L348.05,310.25 L348.80,306.81 L349.60,305.50 L350.40,301.06 L351.20,323.97 L352.30,338.42 L353.45,351.58 L354.60,354.60 L355.80,371.17 L357.00,370.37 L358.10,378.31 L359.20,383.73 L360.20,388.23 L361.20,387.65 L362.20,392.48 L363.13,391.53 L364.07,394.76 L365.00,395.04 L366.15,401.28 L367.30,399.60 L368.18,404.14 L369.05,402.50 L369.93,404.73 L370.80,404.79 L371.80,407.81 L372.80,407.65 L373.80,408.80" fill="none" stroke="#000" stroke-width="1.6" stroke-linejoin="round" />
<text x="156.01" y="17.95" font-size="20" textLength="64.48" lengthAdjust="spacingAndGlyphs" style="font-family:'Liberation Serif', serif"  stroke="#000" stroke-width="0.5" stroke-linejoin="round">Control</text>
<text x="372.30" y="21.45" font-size="19" textLength="98.08" lengthAdjust="spacingAndGlyphs" style="font-family:'Liberation Serif', serif"  stroke="#000" stroke-width="0.5" stroke-linejoin="round">165 µM Chl</text>
<text x="157.63" y="119.05" font-size="19" textLength="57.44" lengthAdjust="spacingAndGlyphs" style="font-family:'Liberation Serif', serif"  stroke="#000" stroke-width="0.5" stroke-linejoin="round">R=2.50</text>
<text x="410.43" y="123.55" font-size="19" textLength="57.72" lengthAdjust="spacingAndGlyphs" style="font-family:'Liberation Serif', serif"  stroke="#000" stroke-width="0.5" stroke-linejoin="round">R=3.65</text>
<text x="145.00" y="246.75" font-size="19" textLength="100.77" lengthAdjust="spacingAndGlyphs" style="font-family:'Liberation Serif', serif"  stroke="#000" stroke-width="0.5" stroke-linejoin="round">17.5 µM Flu</text>
<text x="382.23" y="250.95" font-size="19" textLength="48.01" lengthAdjust="spacingAndGlyphs" style="font-family:'Liberation Serif', serif"  stroke="#000" stroke-width="0.5" stroke-linejoin="round">10 Gy</text>
<text x="162.22" y="345.95" font-size="19" textLength="57.88" lengthAdjust="spacingAndGlyphs" style="font-family:'Liberation Serif', serif"  stroke="#000" stroke-width="0.5" stroke-linejoin="round">R=2.74</text>
<text x="430.73" y="344.75" font-size="19" textLength="66.37" lengthAdjust="spacingAndGlyphs" style="font-family:'Liberation Serif', serif"  stroke="#000" stroke-width="0.5" stroke-linejoin="round">R=13.34</text>
<line x1="54.7" y1="466.7" x2="54.7" y2="652.5" stroke="#000" stroke-width="2"/>
<line x1="55.8" y1="650.2" x2="515.6" y2="650.2" stroke="#000" stroke-width="2.1"/>
<line x1="172.7" y1="648.7" x2="172.7" y2="654.2" stroke="#000" stroke-width="1.6"/>
<line x1="292.3" y1="648.7" x2="292.3" y2="654.2" stroke="#000" stroke-width="1.6"/>
<line x1="399.7" y1="648.7" x2="399.7" y2="654.2" stroke="#000" stroke-width="1.6"/>
<line x1="515.6" y1="648.7" x2="515.6" y2="654.2" stroke="#000" stroke-width="1.6"/>
<line x1="52.2" y1="467.5" x2="54.7" y2="467.5" stroke="#000" stroke-width="1.3"/>
<text x="34.59" y="474.45" font-size="18" textLength="18.24" lengthAdjust="spacingAndGlyphs" style="font-family:'Liberation Serif', serif"  stroke="#000" stroke-width="0.5" stroke-linejoin="round">12</text>
<text x="34.60" y="509.15" font-size="18" textLength="18.14" lengthAdjust="spacingAndGlyphs" style="font-family:'Liberation Serif', serif"  stroke="#000" stroke-width="0.5" stroke-linejoin="round">10</text>
<text x="42.68" y="542.25" font-size="18" textLength="8.65" lengthAdjust="spacingAndGlyphs" style="font-family:'Liberation Serif', serif"  stroke="#000" stroke-width="0.5" stroke-linejoin="round">8</text>
<text x="42.66" y="570.85" font-size="18" textLength="8.59" lengthAdjust="spacingAndGlyphs" style="font-family:'Liberation Serif', serif"  stroke="#000" stroke-width="0.5" stroke-linejoin="round">6</text>
<text x="43.03" y="601.55" font-size="18" textLength="8.02" lengthAdjust="spacingAndGlyphs" style="font-family:'Liberation Serif', serif"  stroke="#000" stroke-width="0.5" stroke-linejoin="round">4</text>
<text x="42.49" y="630.85" font-size="18" textLength="9.04" lengthAdjust="spacingAndGlyphs" style="font-family:'Liberation Serif', serif"  stroke="#000" stroke-width="0.5" stroke-linejoin="round">2</text>
<text x="42.58" y="659.35" font-size="18" textLength="8.85" lengthAdjust="spacingAndGlyphs" style="font-family:'Liberation Serif', serif"  stroke="#000" stroke-width="0.5" stroke-linejoin="round">0</text>
<line x1="54.0" y1="698.3" x2="54.0" y2="888.3" stroke="#000" stroke-width="2"/>
<line x1="56.0" y1="886.0" x2="505.6" y2="886.0" stroke="#000" stroke-width="2.1"/>
<line x1="169.2" y1="884.5" x2="169.2" y2="890.0" stroke="#000" stroke-width="1.6"/>
<line x1="285.4" y1="884.5" x2="285.4" y2="890.0" stroke="#000" stroke-width="1.6"/>
<line x1="390.7" y1="884.5" x2="390.7" y2="890.0" stroke="#000" stroke-width="1.6"/>
<line x1="505.6" y1="884.5" x2="505.6" y2="890.0" stroke="#000" stroke-width="1.6"/>
<line x1="51.5" y1="699.0999999999999" x2="54.0" y2="699.0999999999999" stroke="#000" stroke-width="1.3"/>
<text x="32.39" y="708.85" font-size="18" textLength="18.24" lengthAdjust="spacingAndGlyphs" style="font-family:'Liberation Serif', serif"  stroke="#000" stroke-width="0.5" stroke-linejoin="round">12</text>
<text x="32.40" y="737.85" font-size="18" textLength="18.14" lengthAdjust="spacingAndGlyphs" style="font-family:'Liberation Serif', serif"  stroke="#000" stroke-width="0.5" stroke-linejoin="round">10</text>
<text x="40.88" y="769.45" font-size="18" textLength="8.65" lengthAdjust="spacingAndGlyphs" style="font-family:'Liberation Serif', serif"  stroke="#000" stroke-width="0.5" stroke-linejoin="round">8</text>
<text x="40.86" y="799.35" font-size="18" textLength="8.59" lengthAdjust="spacingAndGlyphs" style="font-family:'Liberation Serif', serif"  stroke="#000" stroke-width="0.5" stroke-linejoin="round">6</text>
<text x="41.23" y="829.15" font-size="18" textLength="8.02" lengthAdjust="spacingAndGlyphs" style="font-family:'Liberation Serif', serif"  stroke="#000" stroke-width="0.5" stroke-linejoin="round">4</text>
<text x="40.69" y="857.85" font-size="18" textLength="9.04" lengthAdjust="spacingAndGlyphs" style="font-family:'Liberation Serif', serif"  stroke="#000" stroke-width="0.5" stroke-linejoin="round">2</text>
<text x="40.78" y="895.25" font-size="18" textLength="8.85" lengthAdjust="spacingAndGlyphs" style="font-family:'Liberation Serif', serif"  stroke="#000" stroke-width="0.5" stroke-linejoin="round">0</text>
<text x="81.43" y="503.75" font-size="19" textLength="105.92" lengthAdjust="spacingAndGlyphs" style="font-family:'Liberation Serif', serif"  stroke="#000" stroke-width="0.5" stroke-linejoin="round">n=10, p&gt;0.05</text>
<text x="290.13" y="503.25" font-size="19" textLength="112.14" lengthAdjust="spacingAndGlyphs" style="font-family:'Liberation Serif', serif"  stroke="#000" stroke-width="0.5" stroke-linejoin="round">n=15 , p&gt;0.05</text>
<text x="75.33" y="724.75" font-size="19" textLength="115.69" lengthAdjust="spacingAndGlyphs" style="font-family:'Liberation Serif', serif"  stroke="#000" stroke-width="0.5" stroke-linejoin="round">n=16, p=0.007</text>
<text x="295.34" y="724.75" font-size="19" textLength="118.69" lengthAdjust="spacingAndGlyphs" style="font-family:'Liberation Serif', serif"  stroke="#000" stroke-width="0.5" stroke-linejoin="round">n=22 , p&lt;0.001</text>
<text x="111.61" y="671.25" font-size="18.5" textLength="13.91" lengthAdjust="spacingAndGlyphs" style="font-family:'Liberation Serif', serif"  stroke="#000" stroke-width="0.5" stroke-linejoin="round">C</text>
<text x="180.73" y="671.25" font-size="18.5" textLength="87.85" lengthAdjust="spacingAndGlyphs" style="font-family:'Liberation Serif', serif"  stroke="#000" stroke-width="0.5" stroke-linejoin="round">33 µM Chl</text>
<text x="340.11" y="671.55" font-size="18.5" textLength="13.91" lengthAdjust="spacingAndGlyphs" style="font-family:'Liberation Serif', serif"  stroke="#000" stroke-width="0.5" stroke-linejoin="round">C</text>
<text x="406.98" y="671.55" font-size="18.5" textLength="99.30" lengthAdjust="spacingAndGlyphs" style="font-family:'Liberation Serif', serif"  stroke="#000" stroke-width="0.5" stroke-linejoin="round">165 µM Chl</text>
<text x="110.07" y="910.15" font-size="18.5" textLength="14.51" lengthAdjust="spacingAndGlyphs" style="font-family:'Liberation Serif', serif"  stroke="#000" stroke-width="0.5" stroke-linejoin="round">C</text>
<text x="173.65" y="910.15" font-size="18.5" textLength="104.34" lengthAdjust="spacingAndGlyphs" style="font-family:'Liberation Serif', serif"  stroke="#000" stroke-width="0.5" stroke-linejoin="round">17.5 µM Flu</text>
<text x="330.31" y="911.75" font-size="18.5" textLength="13.91" lengthAdjust="spacingAndGlyphs" style="font-family:'Liberation Serif', serif"  stroke="#000" stroke-width="0.5" stroke-linejoin="round">C</text>
<text x="406.70" y="911.75" font-size="18.5" textLength="48.84" lengthAdjust="spacingAndGlyphs" style="font-family:'Liberation Serif', serif"  stroke="#000" stroke-width="0.5" stroke-linejoin="round">10 Gy</text>
<line x1="115.7" y1="597.3" x2="230.5" y2="597.3" stroke="#000" stroke-width="1.8"/>
<line x1="115.7" y1="617" x2="230.5" y2="612.5" stroke="#000" stroke-width="1.8"/>
<line x1="115.7" y1="623" x2="230.5" y2="618.8" stroke="#000" stroke-width="1.8"/>
<line x1="115.7" y1="626.5" x2="230.5" y2="619.8" stroke="#000" stroke-width="1.8"/>
<line x1="115.7" y1="627.5" x2="230.5" y2="620.5" stroke="#000" stroke-width="1.8"/>
<line x1="115.7" y1="628.5" x2="230.5" y2="621.5" stroke="#000" stroke-width="1.8"/>
<line x1="115.7" y1="629.5" x2="230.5" y2="628" stroke="#000" stroke-width="1.8"/>
<line x1="115.7" y1="630.5" x2="230.5" y2="628.5" stroke="#000" stroke-width="1.8"/>
<line x1="115.7" y1="628" x2="230.5" y2="627.5" stroke="#000" stroke-width="1.8"/>
<line x1="115.7" y1="630" x2="230.5" y2="629" stroke="#000" stroke-width="1.8"/>
<line x1="343.8" y1="604.5" x2="455.5" y2="605.6" stroke="#000" stroke-width="1.6"/>
<line x1="343.8" y1="612.9" x2="455.5" y2="597.5" stroke="#000" stroke-width="1.6"/>
<line x1="343.8" y1="618.7" x2="455.5" y2="619.5" stroke="#000" stroke-width="1.6"/>
<line x1="343.8" y1="621.5" x2="455.5" y2="621" stroke="#000" stroke-width="1.6"/>
<line x1="343.8" y1="623.5" x2="455.5" y2="619.5" stroke="#000" stroke-width="1.6"/>
<line x1="343.8" y1="630.8" x2="455.5" y2="612.1" stroke="#000" stroke-width="1.6"/>
<line x1="343.8" y1="625" x2="455.5" y2="625.9" stroke="#000" stroke-width="1.6"/>
<line x1="343.8" y1="627" x2="455.5" y2="630.8" stroke="#000" stroke-width="1.6"/>
<line x1="343.8" y1="624.5" x2="455.5" y2="622.5" stroke="#000" stroke-width="1.6"/>
<line x1="343.8" y1="626" x2="455.5" y2="623.3" stroke="#000" stroke-width="1.6"/>
<line x1="343.8" y1="628" x2="455.5" y2="620.5" stroke="#000" stroke-width="1.6"/>
<line x1="343.8" y1="629" x2="455.5" y2="626" stroke="#000" stroke-width="1.6"/>
<line x1="343.8" y1="624" x2="455.5" y2="620" stroke="#000" stroke-width="1.6"/>
<line x1="343.8" y1="627.5" x2="455.5" y2="622" stroke="#000" stroke-width="1.6"/>
<line x1="343.8" y1="625.5" x2="455.5" y2="621.5" stroke="#000" stroke-width="1.6"/>
<line x1="113.7" y1="839.6" x2="225.2" y2="845.4" stroke="#000" stroke-width="1.7"/>
<line x1="113.7" y1="847.7" x2="225.2" y2="846.5" stroke="#000" stroke-width="1.7"/>
<line x1="113.7" y1="853.5" x2="225.2" y2="847.5" stroke="#000" stroke-width="1.7"/>
<line x1="113.7" y1="858" x2="225.2" y2="852.3" stroke="#000" stroke-width="1.7"/>
<line x1="113.7" y1="860" x2="225.2" y2="853" stroke="#000" stroke-width="1.7"/>
<line x1="113.7" y1="861" x2="225.2" y2="853.8" stroke="#000" stroke-width="1.7"/>
<line x1="113.7" y1="862" x2="225.2" y2="852" stroke="#000" stroke-width="1.7"/>
<line x1="113.7" y1="863" x2="225.2" y2="858" stroke="#000" stroke-width="1.7"/>
<line x1="113.7" y1="864" x2="225.2" y2="862.7" stroke="#000" stroke-width="1.7"/>
<line x1="113.7" y1="865" x2="225.2" y2="862.3" stroke="#000" stroke-width="1.7"/>
<line x1="113.7" y1="866" x2="225.2" y2="858.3" stroke="#000" stroke-width="1.7"/>
<line x1="113.7" y1="860.5" x2="225.2" y2="847" stroke="#000" stroke-width="1.7"/>
<line x1="113.7" y1="861.5" x2="225.2" y2="852.8" stroke="#000" stroke-width="1.7"/>
<line x1="113.7" y1="862.5" x2="225.2" y2="853.5" stroke="#000" stroke-width="1.7"/>
<line x1="113.7" y1="864.5" x2="225.2" y2="854" stroke="#000" stroke-width="1.7"/>
<line x1="113.7" y1="865.5" x2="225.2" y2="862" stroke="#000" stroke-width="1.7"/>
<line x1="335.8" y1="856" x2="446.7" y2="718.8" stroke="#000" stroke-width="1.8"/>
<line x1="335.8" y1="858" x2="446.7" y2="740.5" stroke="#000" stroke-width="1.8"/>
<line x1="335.8" y1="860" x2="446.7" y2="769.3" stroke="#000" stroke-width="1.8"/>
<line x1="335.8" y1="861" x2="446.7" y2="772" stroke="#000" stroke-width="1.8"/>
<line x1="335.8" y1="862" x2="446.7" y2="794.4" stroke="#000" stroke-width="1.8"/>
<line x1="335.8" y1="863" x2="446.7" y2="795.2" stroke="#000" stroke-width="1.8"/>
<line x1="335.8" y1="848.3" x2="446.7" y2="809.4" stroke="#000" stroke-width="1.8"/>
<line x1="335.8" y1="854" x2="446.7" y2="814.6" stroke="#000" stroke-width="1.8"/>
<line x1="335.8" y1="840.2" x2="446.7" y2="819.5" stroke="#000" stroke-width="1.8"/>
<line x1="335.8" y1="857" x2="446.7" y2="823.8" stroke="#000" stroke-width="1.8"/>
<line x1="335.8" y1="859" x2="446.7" y2="837.3" stroke="#000" stroke-width="1.8"/>
<line x1="335.8" y1="861" x2="446.7" y2="848" stroke="#000" stroke-width="1.8"/>
<line x1="335.8" y1="863" x2="446.7" y2="849.2" stroke="#000" stroke-width="1.8"/>
<line x1="335.8" y1="864" x2="446.7" y2="850.4" stroke="#000" stroke-width="1.8"/>
<line x1="335.8" y1="865" x2="446.7" y2="859" stroke="#000" stroke-width="1.8"/>
<line x1="335.8" y1="866" x2="446.7" y2="860.2" stroke="#000" stroke-width="1.8"/>
<line x1="335.8" y1="864.5" x2="446.7" y2="861.3" stroke="#000" stroke-width="1.8"/>
<line x1="335.8" y1="855" x2="446.7" y2="810" stroke="#000" stroke-width="1.8"/>
<line x1="335.8" y1="862" x2="446.7" y2="837.8" stroke="#000" stroke-width="1.8"/>
<line x1="335.8" y1="866" x2="446.7" y2="848.6" stroke="#000" stroke-width="1.8"/>
<line x1="335.8" y1="853.5" x2="446.7" y2="823" stroke="#000" stroke-width="1.8"/>
<line x1="335.8" y1="865.5" x2="446.7" y2="860.6" stroke="#000" stroke-width="1.8"/>
<text transform="translate(15.95,759.48) rotate(-90)" x="0" y="0" font-size="19" textLength="115.65" lengthAdjust="spacingAndGlyphs" style="font-family:'Liberation Serif', serif" stroke="#000" stroke-width="0.5" stroke-linejoin="round">Ratio Fas/IgG</text>
<text transform="translate(15.95,630.18) rotate(-90)" x="0" y="0" font-size="19" textLength="62.74" lengthAdjust="spacingAndGlyphs" style="font-family:'Liberation Serif', serif" stroke="#000" stroke-width="0.5" stroke-linejoin="round">MedCF</text>
<text transform="translate(21.35,642.31) rotate(-90)" x="0" y="0" font-size="11" textLength="4.75" lengthAdjust="spacingAndGlyphs" style="font-family:'Liberation Serif', serif" stroke="#000" stroke-width="0.5" stroke-linejoin="round">1</text>
</svg>
</body></html>
